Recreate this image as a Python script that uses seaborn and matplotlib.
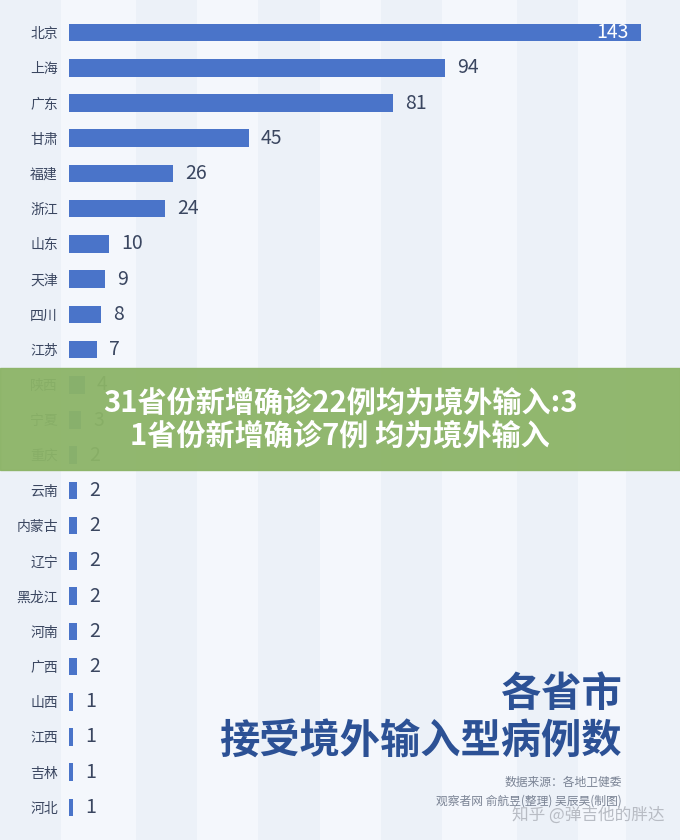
import matplotlib.pyplot as plt
import pandas as pd
import seaborn as sns

provinces = ["北京", "上海", "广东", "甘肃", "福建", "浙江", "山东", "天津", "四川", "江苏",
             "陕西", "宁夏", "重庆", "云南", "内蒙古", "辽宁", "黑龙江", "河南", "广西",
             "山西", "江西", "吉林", "河北"]
cases = [143, 94, 81, 45, 26, 24, 10, 9, 8, 7, 4, 3, 2, 2, 2, 2, 2, 2, 2, 1, 1, 1, 1]

banner_text = "31省份新增确诊22例均为境外输入:3\n1省份新增确诊7例 均为境外输入"
title_text = "各省市\n接受境外输入型病例数"
source_text = "数据来源：各地卫健委\n观察者网 俞航昱(整理) 吴辰昊(制图)"
watermark = "知乎 @弹吉他的胖达"

sns.set_theme(style="white")
plt.rcParams["font.family"] = ["Noto Sans CJK SC", "DejaVu Sans"]

df = pd.DataFrame({"province": provinces, "cases": cases})

fig = plt.figure(figsize=(6.8, 8.4), dpi=100)
fig.patch.set_facecolor("#f4f7fc")

# background axes with faint vertical stripes
bg = fig.add_axes([0, 0, 1, 1], zorder=-1)
bg.set_xlim(0, 1)
bg.set_ylim(0, 1)
bg.axis("off")
for x0 in [0.0, 0.2, 0.38, 0.56, 0.76, 0.92]:
    bg.axvspan(x0, x0 + 0.09, color="#ecf1f8", lw=0)

ax = fig.add_axes([69 / 680, 15 / 840, (641 - 69) / 680, 810 / 840])
ax.set_facecolor("none")
sns.barplot(data=df, x="cases", y="province", color="#4a74c9", saturation=1,
            width=0.5, orient="h", linewidth=0, ax=ax)
ax.set_xlim(0, 143)
ax.set_ylim(len(provinces) - 0.5, -0.5)
ax.set_xlabel("")
ax.set_ylabel("")
ax.set_xticks([])
ax.tick_params(axis="y", length=0, pad=8, labelsize=10, labelcolor="#3a4660")
sns.despine(ax=ax, left=True, bottom=True)

for i, v in enumerate(cases):
    if i == 0:
        ax.text(v - 3, i, str(v), ha="right", va="center", color="white", fontsize=14)
    else:
        ax.text(v + 3, i, str(v), ha="left", va="center", color="#3a4660", fontsize=14)

# green banner overlay
fig.patches.append(plt.Rectangle((0, 1 - 470 / 840), 1, 102 / 840, transform=fig.transFigure,
                                 color="#8cb467", alpha=0.95, zorder=5))
fig.text(0.5, 1 - 419 / 840, banner_text, ha="center", va="center", color="white",
         fontsize=21, fontweight="heavy", linespacing=1.15, zorder=6)

fig.text(622 / 680, 1 - 718 / 840, title_text, ha="right", va="center", color="#2c5195",
         fontsize=29, fontweight="heavy", linespacing=1.2, zorder=6)
fig.text(622 / 680, 1 - 792 / 840, source_text, ha="right", va="center", color="#7a8394",
         fontsize=8.5, linespacing=1.6, zorder=6)
fig.text(665 / 680, 1 - 815 / 840, watermark, ha="right", va="center", color="#b8bcc4",
         fontsize=12, zorder=6)

fig.savefig("out.png", dpi=100, facecolor=fig.get_facecolor())
